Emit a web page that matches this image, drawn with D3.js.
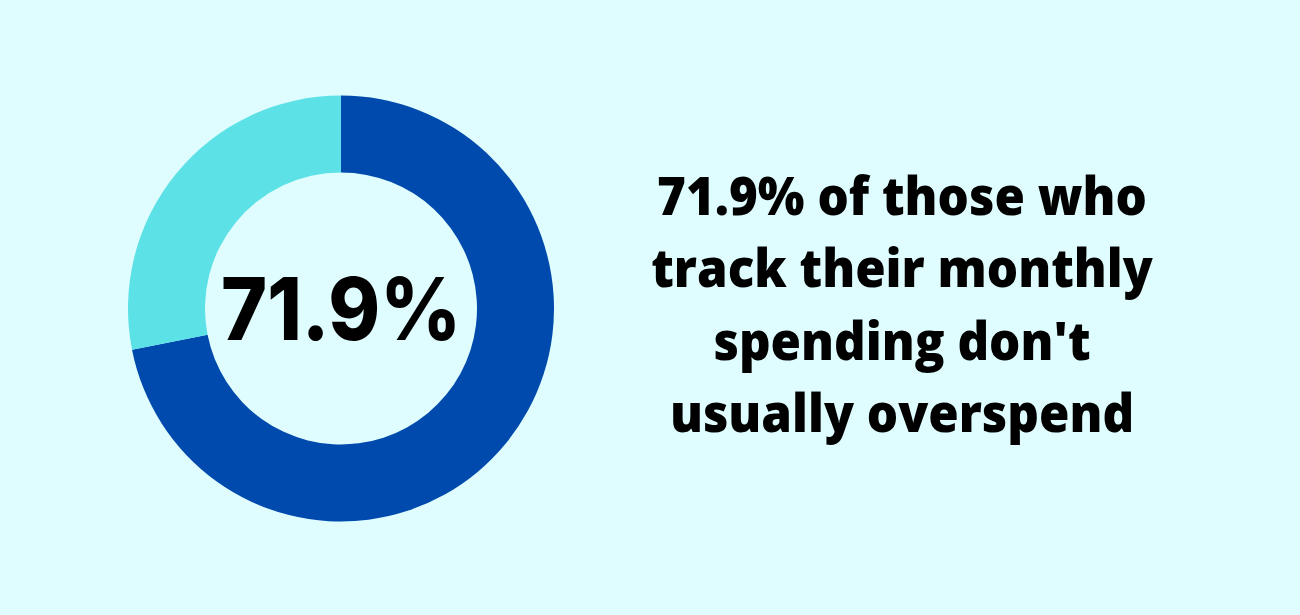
<!DOCTYPE html>
<html><head><meta charset="utf-8">
<script src="https://cdn.jsdelivr.net/npm/d3@7"></script>
<style>html,body{margin:0;padding:0;background:#dffdfe;}</style>
</head><body>
<svg id="chart" width="1300" height="615"></svg>
<script>
const categories = ["Don't usually overspend", "Other"];
const values = [71.9, 28.1];
const colors = ["#004aad", "#5ce1e6"];
const centerLabel = "71.9%";
const captionLines = ["71.9% of those who", "track their monthly", "spending don't", "usually overspend"];

const svg = d3.select("#chart");
svg.append("rect").attr("width", 1300).attr("height", 615).attr("fill", "#dffdfe");

const cx = 341, cy = 308.5, R = 213, r = 136;
const g = svg.append("g").attr("transform", `translate(${cx},${cy})`);
const pie = d3.pie().sort(null).value(d => d)(values);
const arc = d3.arc().innerRadius(r).outerRadius(R);
const color = d3.scaleOrdinal().domain(categories).range(colors);
g.selectAll("path").data(pie).join("path")
  .attr("d", arc)
  .attr("fill", (d, i) => color(categories[i]));

g.append("text")
  .attr("x", 0).attr("y", 31)
  .attr("text-anchor", "middle")
  .attr("font-family", "Inter, 'Open Sans', sans-serif")
  .attr("font-weight", 800)
  .attr("font-size", 86)
  .attr("textLength", 240)
  .attr("lengthAdjust", "spacingAndGlyphs")
  .attr("fill", "#000")
  .text(centerLabel);

const cap = svg.append("g").attr("transform", "translate(902,0) scale(0.93,1)");
cap.selectAll("text").data(captionLines).join("text")
  .attr("x", 0)
  .attr("y", (d, i) => 215 + i * 72.3)
  .attr("text-anchor", "middle")
  .attr("font-family", "'Open Sans', sans-serif")
  .attr("font-weight", 800)
  .attr("font-size", 53)
  .attr("fill", "#000")
  .text(d => d);
</script>
</body></html>
